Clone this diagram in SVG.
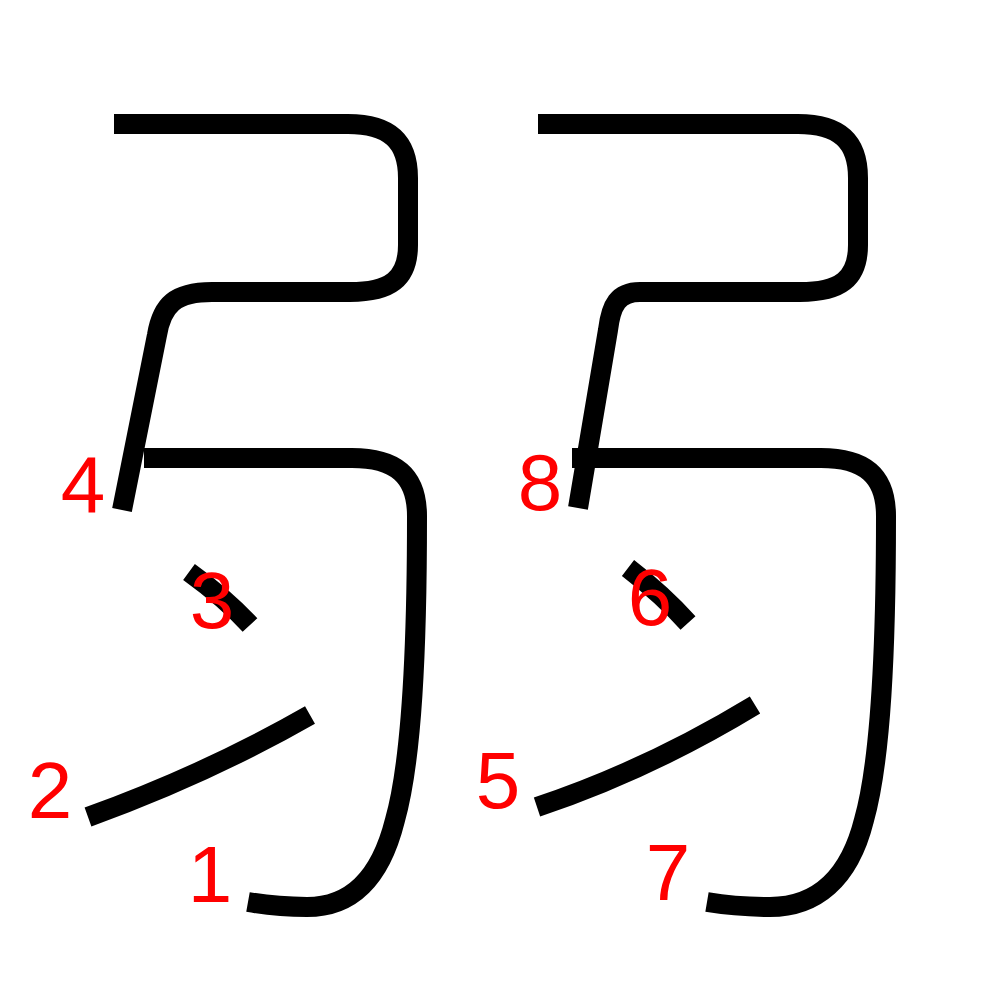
<svg xmlns="http://www.w3.org/2000/svg" width="1000" height="1000" viewBox="0 0 1000 1000">
<style>
.s{fill:none;stroke:#000;stroke-width:20;stroke-linecap:butt;stroke-linejoin:round}
.n{fill:#f00;font-family:"Liberation Sans",Arial,sans-serif;font-size:80px;text-anchor:middle}
</style>
<rect width="1000" height="1000" fill="#fff"/>
<g id="strokes">
<g id="k1"><path class="s" d="M144,458 L352,458 C396,458 417,476 417,516 C417,650 412,760 395,820 C380,880 350,907 307,907 C285,907 265,905 248,902"/></g>
<g id="k2"><path class="s" d="M88,817 Q207,774 310,715"/></g>
<g id="k3"><path class="s" d="M189,572 Q225,598 250,625"/></g>
<g id="k4"><path class="s" d="M114,124 L348,124 C390,124 408,142 408,178 L408,245 C408,279 390,292 350,292 L212,292 C175,292 162,305 157,335 L122,510"/></g>
<g id="k5"><path class="s" d="M537,807 Q648,770 755,705"/></g>
<g id="k6"><path class="s" d="M628,568 Q663,595 688,623"/></g>
<g id="k7"><path class="s" d="M572,458 L821,458 C865,458 886,476 886,516 C886,650 881,760 864,820 C849,880 815,907 770,907 C748,907 725,905 707,902"/></g>
<g id="k8"><path class="s" d="M538,124 L798,124 C840,124 858,142 858,178 L858,245 C858,279 840,292 800,292 L640,292 C618,292 611,305 608,330 L578,508"/></g>
</g>
<g id="labels">
<text class="n" x="210" y="902">1</text>
<text class="n" x="50" y="818">2</text>
<text class="n" x="212" y="628">3</text>
<text class="n" x="83" y="512">4</text>
<text class="n" x="498" y="808">5</text>
<text class="n" x="650" y="625">6</text>
<text class="n" x="668" y="900">7</text>
<text class="n" x="540" y="510">8</text>
</g>
</svg>
